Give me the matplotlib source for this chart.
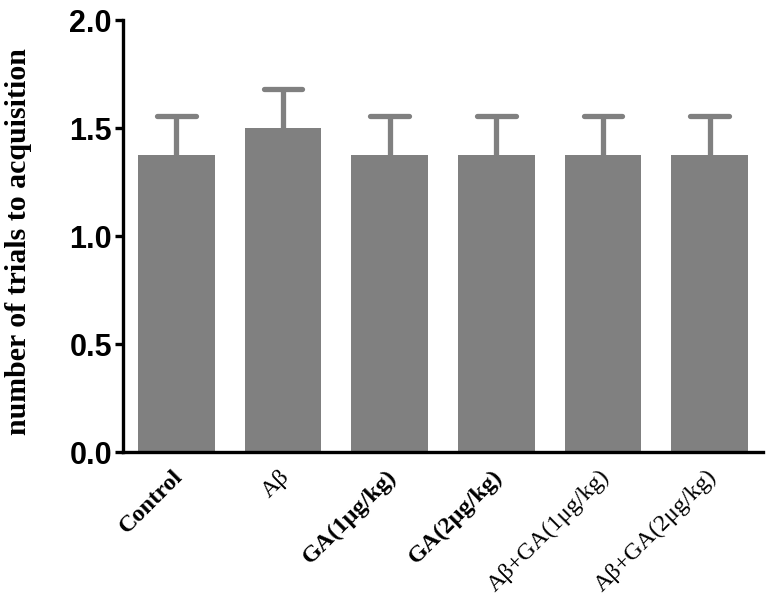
import matplotlib
matplotlib.use("Agg")
import matplotlib.pyplot as plt
import matplotlib.transforms as mtransforms
import numpy as np

categories = ["Control", "Aβ", "GA(1μg/kg)", "GA(2μg/kg)", "Aβ+GA(1μg/kg)", "Aβ+GA(2μg/kg)"]
label_weights = ["bold", "normal", "bold", "bold", "normal", "normal"]
means = [1.375, 1.5, 1.375, 1.375, 1.375, 1.375]
sems = [0.18, 0.18, 0.18, 0.18, 0.18, 0.18]
yticks = [0.0, 0.5, 1.0, 1.5, 2.0]
ytick_labels = ["0.0", "0.5", "1.0", "1.5", "2.0"]

W, H = 773, 604
fig = plt.figure(figsize=(W / 100, H / 100), dpi=100)
ax = fig.add_axes([123 / W, (H - 452) / H, (763 - 123) / W, (452 - 20) / H])

x = np.arange(len(categories))
gray = "#808080"
means_a = np.array(means)
sems_a = np.array(sems)
ax.bar(x, means_a, width=0.72, color=gray, zorder=2)
ax.vlines(x, means_a, means_a + sems_a, color=gray, linewidth=3.8, zorder=1)
ax.hlines(means_a + sems_a, x - 0.18, x + 0.18, color=gray, linewidth=3.8, zorder=1,
          capstyle="round")

ax.set_xlim(-0.5, 5.5)
ax.set_ylim(0, 2.0)
ax.set_yticks(yticks)
ax.set_yticklabels(ytick_labels, fontfamily="Liberation Sans", fontweight="bold", fontsize=22)
ax.set_xticks(x)
ax.set_xticklabels([])

for s in ["top", "right"]:
    ax.spines[s].set_visible(False)
for s in ["left", "bottom"]:
    ax.spines[s].set_linewidth(2.4)
    ax.spines[s].set_color("black")
ax.tick_params(axis="y", length=6, width=2.4, pad=2)
ax.tick_params(axis="x", length=0)

offset = mtransforms.ScaledTranslation(-4 / 100, -14 / 100, fig.dpi_scale_trans)
for xi, lab, wt in zip(x, categories, label_weights):
    ax.text(xi, 0, lab, rotation=45, ha="right", va="top", rotation_mode="anchor",
            fontfamily="Liberation Serif", fontweight=wt, fontsize=17.5,
            transform=ax.get_xaxis_transform() + offset)

ax.set_ylabel("number of trials to acquisition", fontfamily="Liberation Serif",
              fontweight="bold", fontsize=21.5)
ax.yaxis.set_label_coords(-0.142, 0.488)

fig.savefig("out.png", dpi=100)
